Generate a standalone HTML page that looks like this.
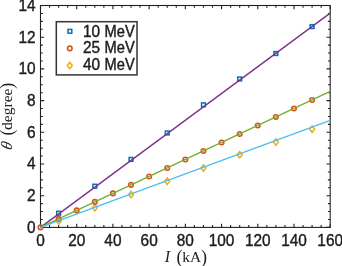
<!DOCTYPE html><html><head><meta charset="utf-8"><style>html,body{margin:0;padding:0;background:#fff;}svg{display:block}text{font-family:"Liberation Sans",sans-serif;fill:#1c1c1c;stroke:#1c1c1c;stroke-width:0.38px}text.s{font-family:"Liberation Serif",serif;fill:#222;stroke:none}text{filter:grayscale(1)}</style></head><body>
<svg width="342" height="266" viewBox="0 0 342 266">
<rect width="342" height="266" fill="#fff"/>
<rect x="40.50" y="5.50" width="289.70" height="221.90" fill="none" stroke="#222" stroke-width="1.1"/>
<path d="M40.50 227.4 v-3.7 M40.50 5.5 v3.7 M49.55 227.4 v-2.3 M49.55 5.5 v2.3 M58.61 227.4 v-2.3 M58.61 5.5 v2.3 M67.66 227.4 v-2.3 M67.66 5.5 v2.3 M76.71 227.4 v-3.7 M76.71 5.5 v3.7 M85.77 227.4 v-2.3 M85.77 5.5 v2.3 M94.82 227.4 v-2.3 M94.82 5.5 v2.3 M103.87 227.4 v-2.3 M103.87 5.5 v2.3 M112.92 227.4 v-3.7 M112.92 5.5 v3.7 M121.98 227.4 v-2.3 M121.98 5.5 v2.3 M131.03 227.4 v-2.3 M131.03 5.5 v2.3 M140.08 227.4 v-2.3 M140.08 5.5 v2.3 M149.14 227.4 v-3.7 M149.14 5.5 v3.7 M158.19 227.4 v-2.3 M158.19 5.5 v2.3 M167.24 227.4 v-2.3 M167.24 5.5 v2.3 M176.30 227.4 v-2.3 M176.30 5.5 v2.3 M185.35 227.4 v-3.7 M185.35 5.5 v3.7 M194.40 227.4 v-2.3 M194.40 5.5 v2.3 M203.46 227.4 v-2.3 M203.46 5.5 v2.3 M212.51 227.4 v-2.3 M212.51 5.5 v2.3 M221.56 227.4 v-3.7 M221.56 5.5 v3.7 M230.62 227.4 v-2.3 M230.62 5.5 v2.3 M239.67 227.4 v-2.3 M239.67 5.5 v2.3 M248.72 227.4 v-2.3 M248.72 5.5 v2.3 M257.77 227.4 v-3.7 M257.77 5.5 v3.7 M266.83 227.4 v-2.3 M266.83 5.5 v2.3 M275.88 227.4 v-2.3 M275.88 5.5 v2.3 M284.93 227.4 v-2.3 M284.93 5.5 v2.3 M293.99 227.4 v-3.7 M293.99 5.5 v3.7 M303.04 227.4 v-2.3 M303.04 5.5 v2.3 M312.09 227.4 v-2.3 M312.09 5.5 v2.3 M321.15 227.4 v-2.3 M321.15 5.5 v2.3 M330.20 227.4 v-3.7 M330.20 5.5 v3.7 M40.5 227.40 h3.7 M330.2 227.40 h-3.7 M40.5 219.47 h2.3 M330.2 219.47 h-2.3 M40.5 211.55 h2.3 M330.2 211.55 h-2.3 M40.5 203.62 h2.3 M330.2 203.62 h-2.3 M40.5 195.70 h3.7 M330.2 195.70 h-3.7 M40.5 187.78 h2.3 M330.2 187.78 h-2.3 M40.5 179.85 h2.3 M330.2 179.85 h-2.3 M40.5 171.93 h2.3 M330.2 171.93 h-2.3 M40.5 164.00 h3.7 M330.2 164.00 h-3.7 M40.5 156.07 h2.3 M330.2 156.07 h-2.3 M40.5 148.15 h2.3 M330.2 148.15 h-2.3 M40.5 140.23 h2.3 M330.2 140.23 h-2.3 M40.5 132.30 h3.7 M330.2 132.30 h-3.7 M40.5 124.38 h2.3 M330.2 124.38 h-2.3 M40.5 116.45 h2.3 M330.2 116.45 h-2.3 M40.5 108.53 h2.3 M330.2 108.53 h-2.3 M40.5 100.60 h3.7 M330.2 100.60 h-3.7 M40.5 92.68 h2.3 M330.2 92.68 h-2.3 M40.5 84.75 h2.3 M330.2 84.75 h-2.3 M40.5 76.82 h2.3 M330.2 76.82 h-2.3 M40.5 68.90 h3.7 M330.2 68.90 h-3.7 M40.5 60.97 h2.3 M330.2 60.97 h-2.3 M40.5 53.05 h2.3 M330.2 53.05 h-2.3 M40.5 45.12 h2.3 M330.2 45.12 h-2.3 M40.5 37.20 h3.7 M330.2 37.20 h-3.7 M40.5 29.28 h2.3 M330.2 29.28 h-2.3 M40.5 21.35 h2.3 M330.2 21.35 h-2.3 M40.5 13.43 h2.3 M330.2 13.43 h-2.3 M40.5 5.50 h3.7 M330.2 5.50 h-3.7" stroke="#222" stroke-width="1.1" fill="none"/>
<rect x="56.71" y="211.31" width="3.8" height="3.8" fill="none" stroke="#0072bd" stroke-width="1.5"/>
<rect x="92.92" y="184.29" width="3.8" height="3.8" fill="none" stroke="#0072bd" stroke-width="1.5"/>
<rect x="129.13" y="157.50" width="3.8" height="3.8" fill="none" stroke="#0072bd" stroke-width="1.5"/>
<rect x="165.34" y="131.11" width="3.8" height="3.8" fill="none" stroke="#0072bd" stroke-width="1.5"/>
<rect x="201.56" y="102.90" width="3.8" height="3.8" fill="none" stroke="#0072bd" stroke-width="1.5"/>
<rect x="237.77" y="77.06" width="3.8" height="3.8" fill="none" stroke="#0072bd" stroke-width="1.5"/>
<rect x="273.98" y="51.63" width="3.8" height="3.8" fill="none" stroke="#0072bd" stroke-width="1.5"/>
<rect x="310.19" y="24.68" width="3.8" height="3.8" fill="none" stroke="#0072bd" stroke-width="1.5"/>
<path d="M58.61 217.83 L61.06 221.03 L58.61 224.23 L56.16 221.03 Z" fill="none" stroke="#edb120" stroke-width="1.6"/>
<path d="M94.82 204.61 L97.27 207.81 L94.82 211.01 L92.37 207.81 Z" fill="none" stroke="#edb120" stroke-width="1.6"/>
<path d="M131.03 191.23 L133.48 194.43 L131.03 197.63 L128.58 194.43 Z" fill="none" stroke="#edb120" stroke-width="1.6"/>
<path d="M167.24 178.01 L169.69 181.21 L167.24 184.41 L164.79 181.21 Z" fill="none" stroke="#edb120" stroke-width="1.6"/>
<path d="M203.46 164.79 L205.91 167.99 L203.46 171.19 L201.01 167.99 Z" fill="none" stroke="#edb120" stroke-width="1.6"/>
<path d="M239.67 151.58 L242.12 154.78 L239.67 157.98 L237.22 154.78 Z" fill="none" stroke="#edb120" stroke-width="1.6"/>
<path d="M275.88 138.75 L278.33 141.95 L275.88 145.15 L273.43 141.95 Z" fill="none" stroke="#edb120" stroke-width="1.6"/>
<path d="M312.09 125.93 L314.54 129.13 L312.09 132.33 L309.64 129.13 Z" fill="none" stroke="#edb120" stroke-width="1.6"/>
<circle cx="40.50" cy="227.40" r="2.25" fill="none" stroke="#d95319" stroke-width="1.6"/>
<circle cx="58.61" cy="218.90" r="2.25" fill="none" stroke="#d95319" stroke-width="1.6"/>
<circle cx="76.71" cy="210.41" r="2.25" fill="none" stroke="#d95319" stroke-width="1.6"/>
<circle cx="94.82" cy="201.91" r="2.25" fill="none" stroke="#d95319" stroke-width="1.6"/>
<circle cx="112.92" cy="193.42" r="2.25" fill="none" stroke="#d95319" stroke-width="1.6"/>
<circle cx="131.03" cy="184.92" r="2.25" fill="none" stroke="#d95319" stroke-width="1.6"/>
<circle cx="149.14" cy="176.43" r="2.25" fill="none" stroke="#d95319" stroke-width="1.6"/>
<circle cx="167.24" cy="167.93" r="2.25" fill="none" stroke="#d95319" stroke-width="1.6"/>
<circle cx="185.35" cy="159.44" r="2.25" fill="none" stroke="#d95319" stroke-width="1.6"/>
<circle cx="203.46" cy="150.94" r="2.25" fill="none" stroke="#d95319" stroke-width="1.6"/>
<circle cx="221.56" cy="142.44" r="2.25" fill="none" stroke="#d95319" stroke-width="1.6"/>
<circle cx="239.67" cy="133.95" r="2.25" fill="none" stroke="#d95319" stroke-width="1.6"/>
<circle cx="257.77" cy="125.45" r="2.25" fill="none" stroke="#d95319" stroke-width="1.6"/>
<circle cx="275.88" cy="116.96" r="2.25" fill="none" stroke="#d95319" stroke-width="1.6"/>
<circle cx="293.99" cy="108.46" r="2.25" fill="none" stroke="#d95319" stroke-width="1.6"/>
<circle cx="312.09" cy="99.97" r="2.25" fill="none" stroke="#d95319" stroke-width="1.6"/>
<g fill="none" stroke-width="1.35">
<line x1="40.50" y1="227.40" x2="330.20" y2="13.11" stroke="#7e2f8e"/>
<line x1="40.50" y1="227.40" x2="330.20" y2="91.47" stroke="#77ac30"/>
<line x1="40.50" y1="227.40" x2="330.20" y2="120.38" stroke="#4dbeee"/>
</g>
<text transform="translate(40.50,246.3) scale(1,1.035)" font-size="15.4" text-anchor="middle">0</text>
<text transform="translate(76.71,246.3) scale(1,1.035)" font-size="15.4" text-anchor="middle">20</text>
<text transform="translate(112.92,246.3) scale(1,1.035)" font-size="15.4" text-anchor="middle">40</text>
<text transform="translate(149.14,246.3) scale(1,1.035)" font-size="15.4" text-anchor="middle">60</text>
<text transform="translate(185.35,246.3) scale(1,1.035)" font-size="15.4" text-anchor="middle">80</text>
<text transform="translate(221.56,246.3) scale(1,1.035)" font-size="15.4" text-anchor="middle">100</text>
<text transform="translate(257.77,246.3) scale(1,1.035)" font-size="15.4" text-anchor="middle">120</text>
<text transform="translate(293.99,246.3) scale(1,1.035)" font-size="15.4" text-anchor="middle">140</text>
<text transform="translate(330.20,246.3) scale(1,1.035)" font-size="15.4" text-anchor="middle">160</text>
<text transform="translate(35.6,232.75) scale(1,1.035)" font-size="15.4" text-anchor="end">0</text>
<text transform="translate(35.6,201.05) scale(1,1.035)" font-size="15.4" text-anchor="end">2</text>
<text transform="translate(35.6,169.35) scale(1,1.035)" font-size="15.4" text-anchor="end">4</text>
<text transform="translate(35.6,137.65) scale(1,1.035)" font-size="15.4" text-anchor="end">6</text>
<text transform="translate(35.6,105.95) scale(1,1.035)" font-size="15.4" text-anchor="end">8</text>
<text transform="translate(35.6,74.25) scale(1,1.035)" font-size="15.4" text-anchor="end">10</text>
<text transform="translate(35.6,42.55) scale(1,1.035)" font-size="15.4" text-anchor="end">12</text>
<text transform="translate(35.6,10.85) scale(1,1.035)" font-size="15.4" text-anchor="end">14</text>
<text class="s" y="262.2" font-size="16"><tspan x="164.8" font-style="italic">I</tspan><tspan x="176.5" dy="0.5" font-size="18.2">(</tspan><tspan x="182.2" dy="-0.5" font-size="15.5">kA</tspan><tspan x="201.1" dy="0.5" font-size="18.2">)</tspan></text>
<text class="s" transform="translate(12.2,150.4) rotate(-90) skewX(-12)" font-size="16" font-style="italic">θ</text>
<text class="s" transform="translate(12.2,135.4) rotate(-90)" font-size="15.5"><tspan x="0" dy="0.5" font-size="17.8">(</tspan><tspan x="5.5" dy="-0.5">degree</tspan><tspan x="46.7" dy="0.5" font-size="17.8">)</tspan></text>
<rect x="56.3" y="21.7" width="80.7" height="53.2" fill="#fff" stroke="#333" stroke-width="1.5"/>
<text transform="translate(83.0,36.5) scale(1,1.035)" font-size="15.4">10</text>
<text transform="translate(104.5,36.5) scale(1,1.085)" font-size="14.7">MeV</text>
<text transform="translate(83.0,53.0) scale(1,1.035)" font-size="15.4">25</text>
<text transform="translate(104.5,53.0) scale(1,1.085)" font-size="14.7">MeV</text>
<text transform="translate(83.0,70.1) scale(1,1.035)" font-size="15.4">40</text>
<text transform="translate(104.5,70.1) scale(1,1.085)" font-size="14.7">MeV</text>
<rect x="68.00" y="29.40" width="3.8" height="3.8" fill="none" stroke="#0072bd" stroke-width="1.5"/>
<circle cx="69.8" cy="48.4" r="2.25" fill="none" stroke="#d95319" stroke-width="1.6"/>
<path d="M69.80 62.40 L72.25 65.60 L69.80 68.80 L67.35 65.60 Z" fill="none" stroke="#edb120" stroke-width="1.6"/>
</svg></body></html>
